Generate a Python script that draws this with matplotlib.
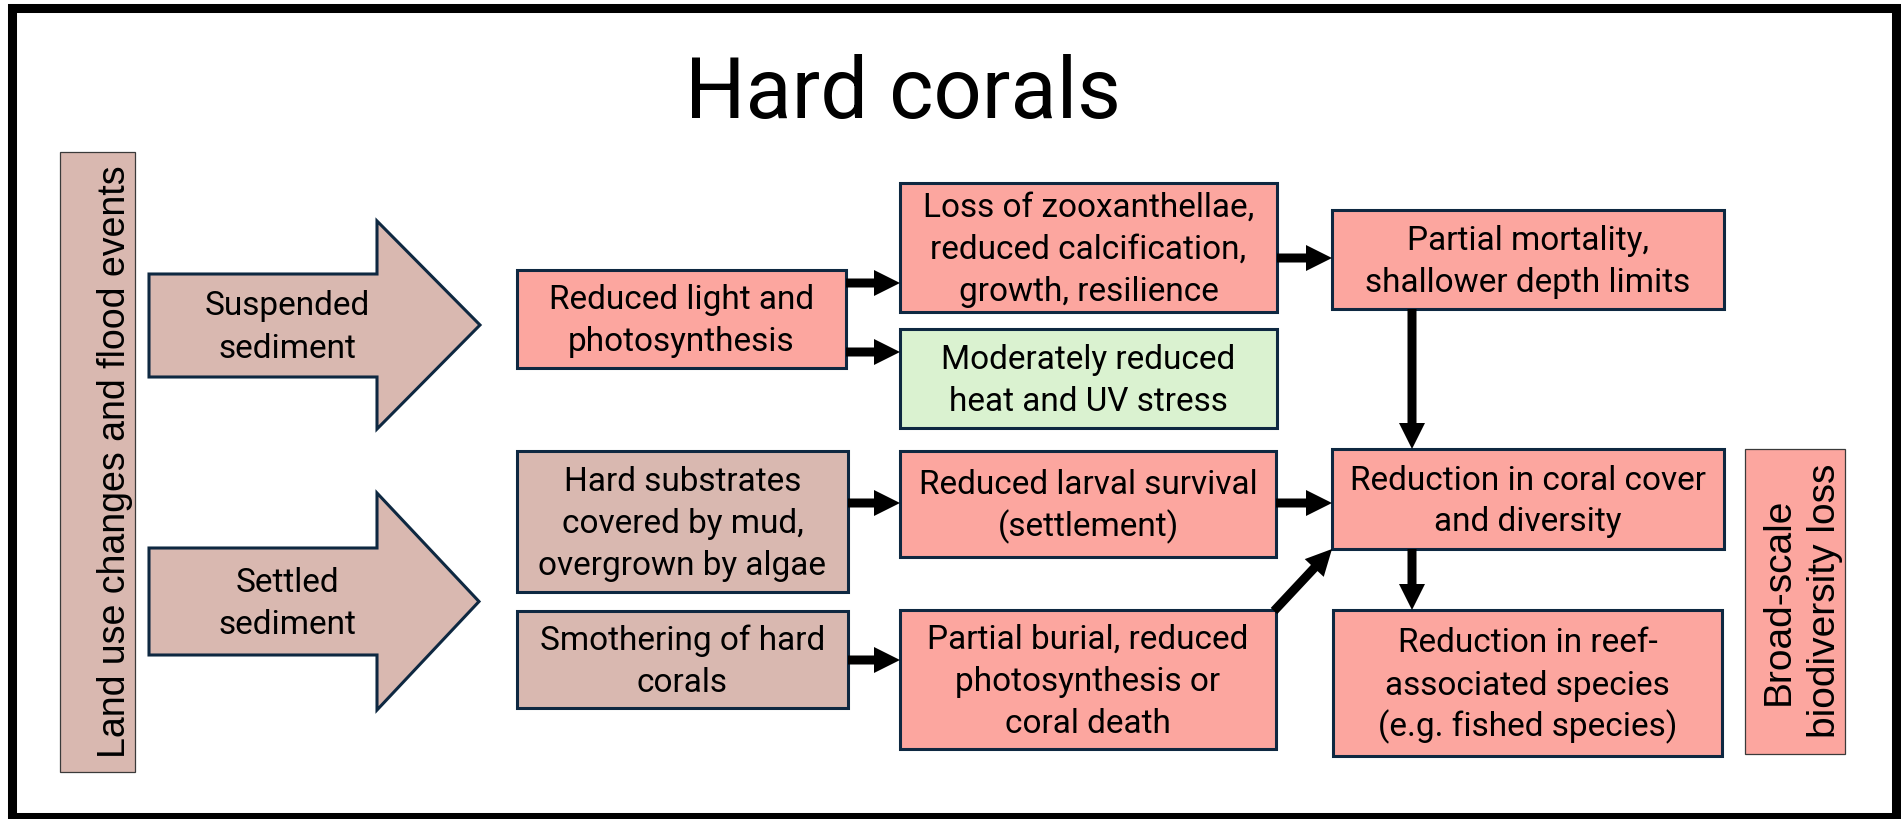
import matplotlib
matplotlib.use("Agg")
import matplotlib.pyplot as plt
from matplotlib.patches import Rectangle, Polygon, FancyArrow

# ---- content ----
title = "Hard corals"
side_label = "Land use changes and flood events"
right_label = ["Broad-scale", "biodiversity loss"]
source_labels = [["Suspended", "sediment"], ["Settled", "sediment"]]
box_texts = [
    ["Reduced light and", "photosynthesis"],
    ["Loss of zooxanthellae,", "reduced calcification,", "growth, resilience"],
    ["Moderately reduced", "heat and UV stress"],
    ["Partial mortality,", "shallower depth limits"],
    ["Hard substrates", "covered by mud,", "overgrown by algae"],
    ["Reduced larval survival", "(settlement)"],
    ["Reduction in coral cover", "and diversity"],
    ["Smothering of hard", "corals"],
    ["Partial burial, reduced", "photosynthesis or", "coral death"],
    ["Reduction in reef-", "associated species", "(e.g. fished species)"],
]
box_kinds = ["impact", "impact", "benefit", "impact", "driver",
             "impact", "impact", "driver", "impact", "impact"]

# ---- style ----
SALMON = "#FCA69F"
DUSTY = "#D9B8B0"
GREEN = "#DAF2D0"
EDGE = "#0E2841"
fill = {"impact": SALMON, "driver": DUSTY, "benefit": GREEN}

W, H = 1901, 819
fig = plt.figure(figsize=(W / 100, H / 100), dpi=100)
ax = fig.add_axes([0, 0, 1, 1])
ax.set_xlim(0, W)
ax.set_ylim(H, 0)
ax.axis("off")

BOX_FONT = "Roboto"
FS = 24
LS = 42
CAP = 11.5

# box geometry (x0, y0, x1, y1) in pixel layout
geom = [
    (517, 270, 846, 368),
    (900, 183, 1277, 312),
    (900, 329, 1277, 428),
    (1332, 210, 1724, 309),
    (517, 451, 848, 592),
    (900, 451, 1276, 557),
    (1332, 449, 1724, 549),
    (517, 611, 848, 708),
    (900, 610, 1276, 749),
    (1333, 610, 1722, 756),
]


def lines_at(cx, cy, lines, **kw):
    n = len(lines)
    for i, t in enumerate(lines):
        y = cy + (i - (n - 1) / 2) * LS + CAP
        ax.text(cx, y, t, ha="center", va="baseline", fontsize=FS,
                family=BOX_FONT, color="black", **kw)


for (x0, y0, x1, y1), txt, kind in zip(geom, box_texts, box_kinds):
    ax.add_patch(Rectangle((x0, y0), x1 - x0, y1 - y0, facecolor=fill[kind],
                           edgecolor=EDGE, linewidth=2.2, zorder=2))
    lines_at((x0 + x1) / 2, (y0 + y1) / 2, txt, zorder=3)

# big block arrows
for (by0, by1, hy0, hy1, tipx), lab in zip(
        [(274, 377, 221, 429, 480), (548, 655, 493, 710, 479)], source_labels):
    cy = (hy0 + hy1) / 2
    pts = [(149, by0), (377, by0), (377, hy0), (tipx, cy),
           (377, hy1), (377, by1), (149, by1)]
    ax.add_patch(Polygon(pts, closed=True, facecolor=DUSTY, edgecolor=EDGE,
                         linewidth=2.2, zorder=2))
    lines_at(287, cy, lab, zorder=3)

# left vertical box
ax.add_patch(Rectangle((60, 152), 75, 620, facecolor=DUSTY, edgecolor="#3a3a3a",
                       linewidth=0.9, zorder=2))
ax.text(125, 462, side_label, rotation=90, rotation_mode="anchor",
        ha="center", va="baseline", fontsize=27, family="Liberation Sans",
        color="black", zorder=3)

# right vertical box
ax.add_patch(Rectangle((1745, 449), 100, 305, facecolor=SALMON, edgecolor="#3a3a3a",
                       linewidth=0.9, zorder=2))
for bx, t in zip([1789, 1835], right_label):
    ax.text(bx, 601, t, rotation=90, rotation_mode="anchor",
            ha="center", va="baseline", fontsize=28, family="Liberation Sans",
            color="black", zorder=3)

# connector arrows
arrows = [
    ((846, 283), (900, 283)),
    ((846, 352), (900, 352)),
    ((1277, 258), (1332, 258)),
    ((848, 503), (900, 503)),
    ((848, 660), (900, 660)),
    ((1276, 503), (1332, 503)),
    ((1412, 309), (1412, 449)),
    ((1412, 549), (1412, 610)),
    ((1274, 611), (1332, 549)),
]
for (xa, ya), (xb, yb) in arrows:
    ax.add_patch(FancyArrow(xa, ya, xb - xa, yb - ya, width=9, head_width=26,
                            head_length=26, length_includes_head=True,
                            facecolor="black", edgecolor="none", zorder=4))

# title
ax.text(903, 118, title, ha="center", va="baseline", fontsize=61,
        family="Roboto", color="black")

# outer frame
ax.add_patch(Rectangle((11.5, 8), 1884.5, 809, facecolor="none",
                       edgecolor="black", linewidth=6.5, zorder=5))

fig.savefig("out.png", dpi=100)
